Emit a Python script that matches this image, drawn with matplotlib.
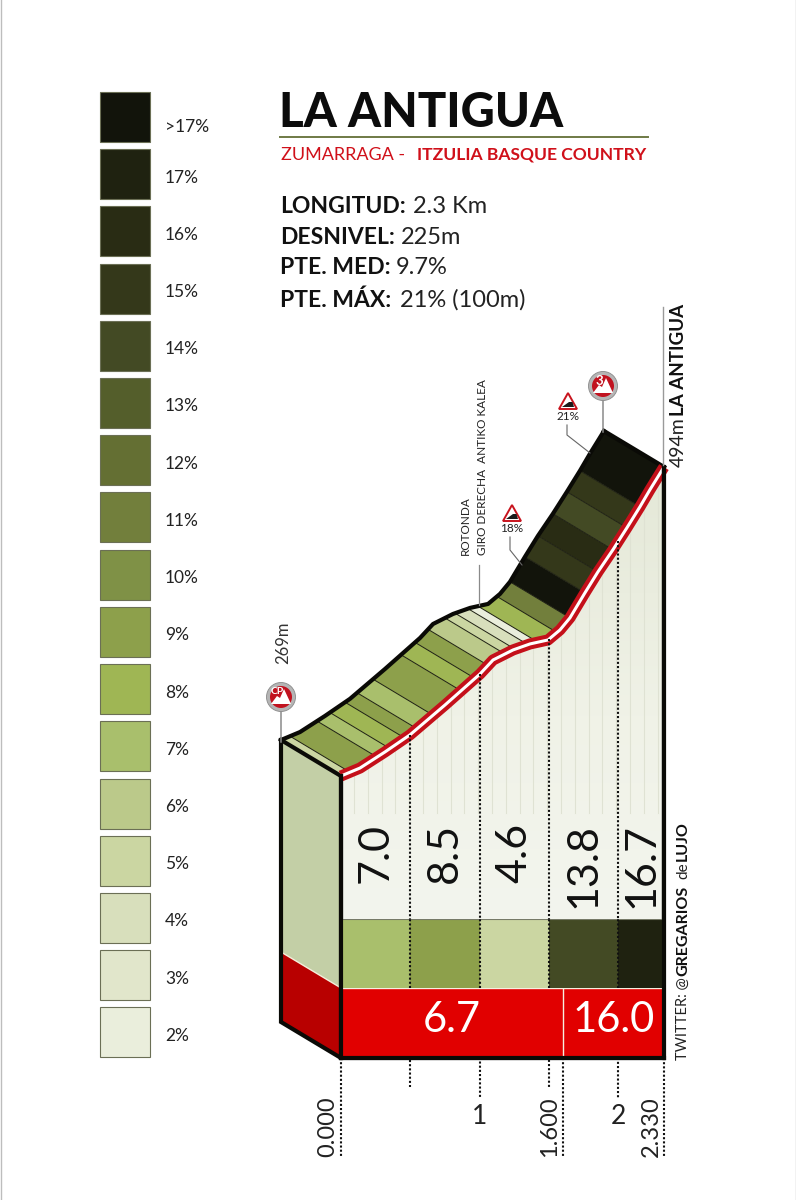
import numpy as np
import matplotlib
matplotlib.use('Agg')
import matplotlib.pyplot as plt
from matplotlib.colors import LinearSegmentedColormap
from matplotlib.patches import Polygon, Circle

# Legend
legend_labels = ['>17%', '17%', '16%', '15%', '14%', '13%', '12%', '11%', '10%',
                 '9%', '8%', '7%', '6%', '5%', '4%', '3%', '2%']
legend_colors = ['#12140b', '#1f2210', '#292c14', '#34381a', '#434a24', '#545e2b',
                 '#646f33', '#727f3c', '#7f9146', '#8da04b', '#9fb654', '#a9bf6c',
                 '#bbc98a', '#cbd6a2', '#d8dfbc', '#e1e6cb', '#eaeedc']
grade_color = dict(zip(legend_labels, legend_colors))

# Profile, km and metres
profile_km = [0, .137, .317, .498, .750, 1.003, 1.097, 1.241, 1.364, 1.494, 1.580,
              1.652, 1.760, 1.854, 1.962, 2.063, 2.157, 2.229, 2.330]
profile_elev = [269, 274.8, 286.5, 299, 320.7, 343.3, 353.5, 360.8, 365.2, 368.1, 375.4,
                384.2, 402.4, 417.7, 433.8, 449.8, 465.1, 477.5, 494]

# Coloured slices on the top of the road
slice_edges = [0, .065, .260, .353, .462, .549, .664, .866, .967, 1.061, 1.183, 1.256,
               1.349, 1.421, 1.558, 1.652, 1.760, 1.854, 1.962, 2.063, 2.157, 2.33]
slice_grades = ['5%', '9%', '7%', '8%', '9%', '7%', '9%', '8%', '9%', '6%', '5%',
                '4%', '2%', '8%', '11%', '>17%', '15%', '16%', '14%', '15%', '>17%']

# Half km blocks
block_edges = [0, .5, 1, 1.5, 2, 2.33]
block_values = [7.0, 8.5, 4.6, 13.8, 16.7]
block_grades = ['7%', '9%', '5%', '14%', '17%']

# Sector averages
sector_edges = [0, 1.6, 2.33]
sector_values = [6.7, 16.0]

km_labels = ['0.000', '1', '1.600', '2', '2.330']
km_ticks = [0, 1, 1.6, 2, 2.33]

W, H = 796, 1200
X0, PX_KM = 341, 138.6
Y0, PX_M = 776, 1.373
BACK_KM, BACK_M = -60 / PX_KM, 36 / PX_M  # the depth of the 3d face


def elev_of(y):
    return 269 + (Y0 - y) / PX_M


def km_of(x):
    return (x - X0) / PX_KM


def box(x0, y0, x1, y1):
    return [x0 / W, 1 - y1 / H, (x1 - x0) / W, (y1 - y0) / H]


plt.rcParams['font.family'] = ['Lato', 'DejaVu Sans']
LIGHT = 'normal'

fig = plt.figure(figsize=(7.96, 12), dpi=100, facecolor='white')

# Main axes: whole page, km / metres
ax = fig.add_axes([0, 0, 1, 1])
ax.set_xlim(km_of(0), km_of(W))
ax.set_ylim(elev_of(H), elev_of(0))
ax.axis('off')

km = np.array(profile_km)
elev = np.array(profile_elev)
y_bottom = elev_of(1058)
y_blocks = elev_of(919)

# left wall
wall_x = [km[0] + BACK_KM, km[0], km[0], km[0] + BACK_KM]
ax.add_patch(Polygon(list(zip(wall_x, [elev[0] + BACK_M, elev[0], y_bottom, y_bottom + BACK_M])),
                     fc='#c3cfa6', ec='none', zorder=1))
y_red = elev_of(988)
ax.add_patch(Polygon(list(zip(wall_x, [y_red + BACK_M, y_red, y_bottom, y_bottom + BACK_M])),
                     fc='#b80000', ec='none', zorder=2))
ax.plot(wall_x[:2], [y_red + BACK_M, y_red], color='#f4f0dc', lw=1, zorder=3)

# front panel with soft gradient
panel = Polygon(list(zip(np.r_[km, km[-1], km[0]], np.r_[elev, y_blocks, y_blocks])),
                fc='none', ec='none', transform=ax.transData)
ax.add_patch(panel)
cmap = LinearSegmentedColormap.from_list('panel', [(0, '#e4e8d7'), (0.55, '#f0f2e7'), (1, '#f3f5ee')])
im = ax.imshow(np.linspace(0, 1, 200).reshape(-1, 1), extent=[km[0], km[-1], y_blocks, elev[-1]],
               aspect='auto', cmap=cmap, vmin=0, vmax=1, zorder=1)
im.set_clip_path(panel)
ax.set_xlim(km_of(0), km_of(W))
ax.set_ylim(elev_of(H), elev_of(0))

for xp in np.arange(354, 664, 13.8):
    k = km_of(xp)
    ax.plot([k, k], [np.interp(k, km, elev), elev_of(813)], color='#dfe2d3', lw=0.8, zorder=1.5)

# top face slices
for i, g in enumerate(slice_grades):
    k0, k1 = slice_edges[i], slice_edges[i + 1]
    inner = km[(km > k0) & (km < k1)]
    ks = np.r_[k0, inner, k1]
    es = np.interp(ks, km, elev)
    pts = list(zip(ks, es)) + list(zip(ks[::-1] + BACK_KM, es[::-1] + BACK_M))
    ax.add_patch(Polygon(pts, fc=grade_color[g], ec='none', zorder=3))
    if i > 0:
        ax.plot([k0, k0 + BACK_KM], [es[0], es[0] + BACK_M], color='#1c1e10', lw=0.7, zorder=3.5)

# outline
ax.plot(km + BACK_KM, elev + BACK_M, color='#0a0a06', lw=3, zorder=5, solid_joinstyle='round')
ax.plot([km[-1] + BACK_KM, km[-1]], [elev[-1] + BACK_M, elev[-1]], color='#0a0a06', lw=3.2, zorder=5)
ax.plot([km[0] + BACK_KM, km[0]], [elev[0] + BACK_M, elev[0]], color='#0a0a06', lw=3, zorder=5)
ax.plot([km[0] + BACK_KM, km[0] + BACK_KM, km[0], km[-1], km[-1]],
        [elev[0] + BACK_M, y_bottom + BACK_M, y_bottom, y_bottom, elev[-1]],
        color='#0a0a06', lw=3, zorder=8, solid_joinstyle='miter')
ax.plot([km[0], km[0]], [elev[0], y_bottom], color='#0a0a06', lw=3, zorder=8)

# dotted km marks
for k, yend in [(.5, 1087), (1, 1098), (1.5, 1087), (2, 1098)]:
    ax.plot([k, k], [np.interp(k, km, elev), elev_of(yend)], color='#111111', lw=1.5,
            ls=(0, (1, 1)), zorder=7)
for k in [0, 1.6, 2.33]:
    ax.plot([k, k], [y_bottom, elev_of(1157)], color='#111111', lw=1.5, ls=(0, (1, 1)), zorder=7)

# road
ax.plot(km, elev, color='#c4101a', lw=8, zorder=6, solid_capstyle='butt', solid_joinstyle='round')
ax.plot(km, elev, color='white', lw=2.2, zorder=6.5, solid_capstyle='butt', solid_joinstyle='round')

# block axes
ax_blocks = fig.add_axes(box(341, 919, 664, 988))
ax_blocks.set_xlim(0, 2.33)
ax_blocks.set_ylim(0, 1)
ax_blocks.axis('off')
ax_blocks.patch.set_alpha(0)
ax_blocks.bar(block_edges[:-1], 1, width=np.diff(block_edges), align='edge',
              color=[grade_color[g] for g in block_grades])
ax_blocks.plot([0, 2.33], [1, 1], color='#777a68', lw=0.8)
for i, v in enumerate(block_values):
    mid = (block_edges[i] + block_edges[i + 1]) / 2
    ax_blocks.text(mid, (988 - 823) / 69, f'{v:.1f}', rotation=90, ha='center', va='top',
                   fontsize=31, color='#111111', fontweight=LIGHT, clip_on=False)
# dotted lines on top of the blocks
for k in [.5, 1, 1.5, 2]:
    ax_blocks.plot([k, k], [0, 1], color='#111111', lw=1.5, ls=(0, (1, 1)))

# sector axes
ax_sect = fig.add_axes(box(341, 988, 664, 1058))
ax_sect.set_xlim(0, 2.33)
ax_sect.set_ylim(0, 1)
ax_sect.axis('off')
ax_sect.patch.set_alpha(0)
ax_sect.bar(sector_edges[:-1], 1, width=np.diff(sector_edges), align='edge', color='#e10000')
ax_sect.plot([0, 2.33], [1, 1], color='#f6efe0', lw=1)
ax_sect.plot([1.6, 1.6], [0, 1], color='#f6efe0', lw=1)
for i, v in enumerate(sector_values):
    mid = (sector_edges[i] + sector_edges[i + 1]) / 2
    ax_sect.text(mid, 0.54, f'{v:.1f}', ha='center', va='center', fontsize=30, color='white',
                 fontweight=LIGHT)
# keep the frame above the new axes
ax_frame = fig.add_axes([0, 0, 1, 1], sharex=ax, sharey=ax)
ax_frame.axis('off')
ax_frame.patch.set_alpha(0)
ax_frame.plot([km[0], km[-1]], [y_bottom, y_bottom], color='#0a0a06', lw=3, zorder=8)
ax_frame.plot([km[0], km[0]], [y_bottom, elev[0]], color='#0a0a06', lw=3, zorder=8)
ax_frame.plot([km[-1], km[-1]], [y_bottom, elev[-1]], color='#0a0a06', lw=3, zorder=8)

# km labels
for lab, k in zip(km_labels, km_ticks):
    if lab in ('1', '2'):
        ax_frame.text(k, elev_of(1117), lab, ha='center', va='center', fontsize=19, color='#222222',
                      fontweight=LIGHT)
    else:
        ax_frame.text(k - 13 / PX_KM, elev_of(1157), lab, rotation=90, ha='center', va='bottom',
                      fontsize=17, color='#222222', fontweight=LIGHT)

# Legend axes
ax_leg = fig.add_axes(box(100, 92, 150, 1057))
ax_leg.set_xlim(0, 1)
ax_leg.set_ylim(16.43, -0.437)
ax_leg.axis('off')
bars = ax_leg.barh(range(len(legend_labels)), 1, height=50 / 57.2, color=legend_colors,
                   edgecolor='#6b6f55', linewidth=0.8)
for b in bars:
    b.set_clip_on(False)
for i, lab in enumerate(legend_labels):
    ax_leg.text(1.3, i + (0.17 if i == 0 else 0.06), lab, ha='left', va='center', fontsize=12.5,
                color='#222222', fontweight=LIGHT, clip_on=False)


# page overlay for the text, in pixels
page = fig.add_axes([0, 0, 1, 1], zorder=20)
page.set_xlim(0, W)
page.set_ylim(H, 0)
page.axis('off')
page.patch.set_alpha(0)

page.text(279, 127, 'LA ANTIGUA', fontsize=34, fontweight='black', color='#0c0c0c', va='baseline')
page.plot([280, 648], [137, 137], color='#6f7a45', lw=1.4)
page.text(281, 160, 'ZUMARRAGA - ', fontsize=13, fontweight=LIGHT, color='#d0101a', va='baseline')
page.text(417, 160, 'ITZULIA BASQUE COUNTRY', fontsize=12.6, fontweight='bold', color='#d0101a', va='baseline')

stats = [('LONGITUD:', '2.3 Km', 213, 413), ('DESNIVEL:', '225m', 244, 401),
         ('PTE. MED:', '9.7%', 274, 396), ('PTE. MÁX:', '21% (100m)', 307, 400)]
for name, val, yb, xv in stats:
    page.text(280, yb, name, fontsize=16.5, fontweight='bold', color='#111111', va='baseline')
    page.text(xv, yb, val, fontsize=17, fontweight=LIGHT, color='#222222', va='baseline')

page.text(283, 664, '269m', rotation=90, ha='center', va='bottom', fontsize=12, color='#333333',
          fontweight=LIGHT)
page.plot([663, 663], [307, 465], color='#9a9a9a', lw=1)
page.text(678, 467, '494m', rotation=90, ha='center', va='bottom', fontsize=14, color='#222222',
          fontweight=LIGHT)
page.text(678, 416, 'LA ANTIGUA', rotation=90, ha='center', va='bottom', fontsize=13.5, color='#111111',
          fontweight='bold')

# twitter
page.text(683, 1060, 'TWITTER: @', rotation=90, ha='center', va='bottom', fontsize=10.5, color='#222222',
          fontweight=LIGHT)
page.text(683, 976, 'GREGARIOS', rotation=90, ha='center', va='bottom', fontsize=11.5, color='#111111',
          fontweight='bold')
page.text(683, 879, 'de', rotation=90, ha='center', va='bottom', fontsize=11, color='#222222',
          fontweight=LIGHT)
page.text(683, 861, 'LUJO', rotation=90, ha='center', va='bottom', fontsize=11.5, color='#111111',
          fontweight='bold')

# street notes
page.text(465, 555, 'ROTONDA', rotation=90, ha='center', va='bottom', fontsize=8.5, color='#222222',
          fontweight=LIGHT)
page.text(482, 555, 'GIRO DERECHA  ANTIKO KALEA', rotation=90, ha='center', va='bottom', fontsize=8.5,
          color='#222222', fontweight=LIGHT)
page.plot([479, 479], [565, 605], color='#8a8a8a', lw=0.9)


def climb_badge(x, y, label, lab_size, stem_to):
    page.plot([x, x], [y, stem_to], color='#8a8a8a', lw=1.1, zorder=2)
    page.add_patch(Circle((x, y), 14.5, fc='#b5b5b5', ec='#8a8a8a', lw=0.6, zorder=3))
    page.add_patch(Circle((x, y), 11, fc='#c1121f', ec='none', zorder=4))
    page.add_patch(Polygon([(x - 10, y + 7), (x - 4, y - 1), (x - 1, y + 1), (x + 3, y - 8), (x + 10, y + 7)],
                           fc='white', ec='none', zorder=5))
    page.text(x - 4, y - 5, label, ha='center', va='center', fontsize=lab_size, color='white',
              fontweight='bold', zorder=6)


def slope_sign(x, y, label, line_pts):
    page.add_patch(Polygon([(x - 9, y + 8), (x, y - 8), (x + 9, y + 8)], fc='white', ec='#c8141e', lw=1.4,
                           zorder=3))
    page.add_patch(Polygon([(x - 6, y + 6), (x + 6, y + 6), (x + 4.5, y + 1), (x + 1, y + 1)], fc='#1a1a1a',
                           ec='none', zorder=4))
    page.text(x, y + 15, label, ha='center', va='center', fontsize=8.5, color='#222222', fontweight=LIGHT)
    xs, ys = zip(*line_pts)
    page.plot(xs, ys, color='#666666', lw=0.8)


climb_badge(281, 697, 'CP', 7.5, 742)
climb_badge(603, 386, '3', 9.5, 432)
slope_sign(512, 513, '18%', [(510, 537), (510, 550), (522, 565)])
slope_sign(568, 401, '21%', [(567, 425), (567, 435), (590, 453)])

# thin page edges
page.plot([0.5, 0.5], [0, H], color='#bdbdbd', lw=1)
page.plot([W - 0.5, W - 0.5], [0, H], color='#bdbdbd', lw=1)

fig.savefig('out.png', dpi=100, facecolor='white')
